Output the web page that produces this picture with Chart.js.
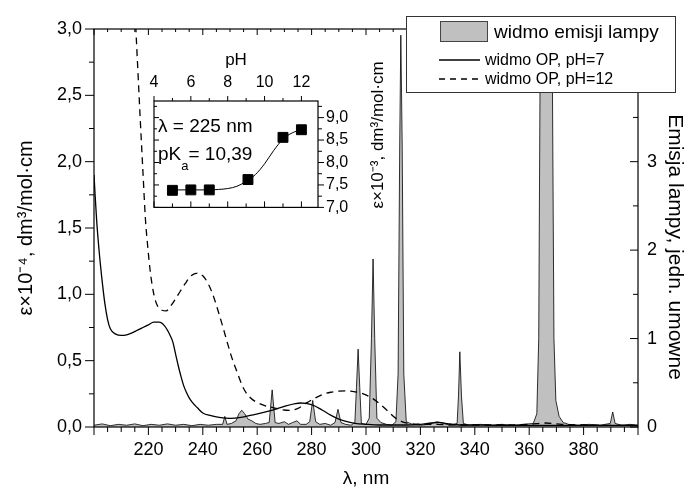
<!DOCTYPE html>
<html>
<head>
<meta charset="utf-8">
<script src="https://cdn.jsdelivr.net/npm/chart.js@4.4.1/dist/chart.umd.min.js"></script>
<style>
  html, body { margin: 0; padding: 0; background: #fff; }
  #wrap { position: relative; width: 688px; height: 490px; }
  #main { position: absolute; left: 0; top: 0; }
  #inset { position: absolute; left: 140px; top: 40px; }
</style>
</head>
<body>
<div id="wrap">
  <canvas id="main" width="688" height="490"></canvas>
  <canvas id="inset" width="260" height="185"></canvas>
</div>
<script>
// Absorption spectrum, pH=7 (lambda nm / eps x 10^-4)
const waveSolid = [200, 200.4, 201, 202, 203, 204, 205, 206, 208, 210, 212, 214, 216, 218, 220, 222, 224, 226, 228, 229, 230, 231, 232, 233, 234, 235, 236, 238, 240, 243, 246, 250, 254, 258, 262, 266, 270, 274, 276, 278, 281, 284, 287, 290, 293, 296, 300, 305, 310, 315, 320, 324, 327, 330, 335, 340, 350, 360, 370, 380, 390, 400];
const epsSolid = [1.9, 1.75, 1.55, 1.3, 1.1, 0.93, 0.81, 0.74, 0.70, 0.69, 0.695, 0.71, 0.73, 0.75, 0.77, 0.79, 0.79, 0.76, 0.69, 0.64, 0.55, 0.46, 0.38, 0.31, 0.26, 0.22, 0.19, 0.145, 0.105, 0.085, 0.072, 0.065, 0.072, 0.09, 0.108, 0.13, 0.155, 0.176, 0.181, 0.178, 0.16, 0.126, 0.09, 0.06, 0.04, 0.027, 0.02, 0.015, 0.015, 0.015, 0.02, 0.03, 0.035, 0.025, 0.015, 0.015, 0.012, 0.012, 0.012, 0.012, 0.012, 0.012];

// Absorption spectrum, pH=12
const waveDashed = [214.8, 215.4, 216.1, 217, 218, 218.9, 219.8, 220.7, 222, 223.4, 225, 226.5, 228.5, 231, 233.5, 235.7, 238, 240, 242, 244, 246, 248, 250.4, 252.5, 255, 257.5, 260, 263, 266, 269, 272, 275, 278, 281, 284, 287, 290, 293, 296, 299, 302, 305, 308, 311, 314, 318, 325, 335, 350, 360, 366, 372, 380, 390, 400];
const epsDashed = [3.3, 3.0, 2.7, 2.32, 1.92, 1.57, 1.35, 1.17, 1.0, 0.91, 0.88, 0.875, 0.92, 1.0, 1.08, 1.14, 1.16, 1.14, 1.08, 0.98, 0.85, 0.71, 0.54, 0.42, 0.29, 0.22, 0.185, 0.16, 0.145, 0.13, 0.125, 0.14, 0.18, 0.215, 0.245, 0.262, 0.27, 0.272, 0.265, 0.25, 0.22, 0.175, 0.12, 0.065, 0.035, 0.022, 0.02, 0.015, 0.015, 0.02, 0.03, 0.02, 0.015, 0.012, 0.012];

// Lamp emission (right axis, arbitrary units)
const waveLamp = [200, 203, 206, 209, 212, 215, 218, 221, 224, 227, 230, 233, 236, 239, 242, 245, 247.3, 248.1, 248.9, 250.5, 252.2, 253.3, 254.3, 255.4, 256.6, 258, 259.5, 261, 263, 264.4, 265.5, 266.6, 268, 270, 271.5, 273, 274.6, 276, 278, 279.3, 280.4, 281.5, 283, 285, 287, 288.6, 289.7, 290.8, 292.5, 294.5, 295.9, 296.5, 297.1, 297.7, 298.3, 300, 301.2, 302, 302.6, 303.2, 304, 305.5, 307.5, 309.5, 311, 311.8, 312.4, 312.8, 313.3, 313.9, 314.8, 317, 320, 323, 326, 328.5, 331, 333.5, 334, 334.5, 335.1, 335.8, 338, 342, 346, 350, 354, 358, 361.5, 362.8, 363.5, 364.1, 365.5, 367.4, 368.4, 369.1, 369.8, 371, 372.5, 374.5, 378, 382, 386, 389.8, 390.7, 391.6, 394, 397, 400];
const lampEmission = [0.02, 0.035, 0.015, 0.03, 0.02, 0.035, 0.015, 0.03, 0.02, 0.035, 0.02, 0.03, 0.015, 0.03, 0.02, 0.03, 0.03, 0.12, 0.03, 0.04, 0.07, 0.15, 0.19, 0.15, 0.09, 0.07, 0.04, 0.03, 0.04, 0.05, 0.42, 0.05, 0.04, 0.06, 0.03, 0.05, 0.07, 0.03, 0.03, 0.06, 0.3, 0.06, 0.03, 0.04, 0.02, 0.05, 0.2, 0.05, 0.03, 0.02, 0.05, 0.45, 0.88, 0.45, 0.04, 0.03, 0.1, 1.0, 1.9, 1.0, 0.1, 0.05, 0.03, 0.02, 0.06, 0.6, 3.2, 4.43, 3.2, 0.6, 0.06, 0.03, 0.02, 0.03, 0.06, 0.04, 0.02, 0.04, 0.35, 0.85, 0.35, 0.04, 0.02, 0.03, 0.02, 0.03, 0.02, 0.03, 0.04, 0.15, 1.0, 4.6, 9.0, 9.0, 4.6, 1.0, 0.3, 0.12, 0.05, 0.03, 0.02, 0.03, 0.02, 0.04, 0.17, 0.04, 0.02, 0.03, 0.02];

// Inset: eps at 225 nm vs pH (eps x 10^-3)
const phValues = [5, 6, 7, 9.1, 11, 12];
const eps225 = [7.38, 7.39, 7.39, 7.62, 8.56, 8.73];
const fitPh = [5, 6, 7, 7.5, 8, 8.5, 9, 9.5, 10, 10.5, 11, 11.5, 12];
const fitEps = [7.39, 7.39, 7.39, 7.40, 7.42, 7.47, 7.58, 7.73, 7.97, 8.27, 8.52, 8.66, 8.73];

// tick labels
const xTickValues = [220, 240, 260, 280, 300, 320, 340, 360, 380];
const yTickValues = [0, 0.5, 1, 1.5, 2, 2.5, 3];
const y2TickValues = [0, 1, 2, 3];
const phTickValues = [4, 6, 8, 10, 12];
const insetYTickValues = [7, 7.5, 8, 8.5, 9];

const FONT = "'Liberation Sans', Arial, Helvetica, sans-serif";
Chart.defaults.font.family = FONT;
Chart.defaults.color = '#000';

function pairs(xs, ys) {
    return xs.map((x, i) => ({ x: x, y: ys[i] }));
}
function comma(v) {
    return Number(v).toFixed(1).replace('.', ',');
}
function steps(from, to, step) {
    const out = [];
    for (let v = from; v <= to + 1e-9; v += step) out.push(+v.toFixed(4));
    return out;
}
function isMultiple(v, m) {
    return Math.abs(v / m - Math.round(v / m)) < 1e-6;
}
function seg(ctx, x1, y1, x2, y2) {
    ctx.beginPath();
    ctx.moveTo(x1, y1);
    ctx.lineTo(x2, y2);
    ctx.stroke();
}

// Frame + major/minor tick marks for main plot
const mainFrame = {
    id: 'mainFrame',
    afterDatasetsDraw(chart) {
        const { ctx, chartArea: a, scales } = chart;
        ctx.save();
        ctx.strokeStyle = '#000';
        ctx.lineWidth = 1.2;
        ctx.strokeRect(a.left, a.top, a.right - a.left, a.bottom - a.top);
        ctx.lineWidth = 1;
        steps(200, 400, 5).forEach(v => {
            const px = scales.x.getPixelForValue(v);
            const major = isMultiple(v, 20);
            seg(ctx, px, a.bottom, px, a.bottom + (major ? 8 : 5));
            seg(ctx, px, a.top, px, a.top + (major ? 6 : 3));
        });
        steps(0, 3, 0.25).forEach(v => {
            const py = scales.y.getPixelForValue(v);
            seg(ctx, a.left, py, a.left - (isMultiple(v, 0.5) ? 9 : 5), py);
        });
        steps(0, 4.5, 0.5).forEach(v => {
            const py = scales.y2.getPixelForValue(v);
            seg(ctx, a.right, py, a.right - (isMultiple(v, 1) ? 8 : 5), py);
        });
        // right axis title, reads top to bottom
        ctx.fillStyle = '#000';
        ctx.font = '21px ' + FONT;
        ctx.textAlign = 'center';
        ctx.textBaseline = 'middle';
        ctx.translate(675, 247);
        ctx.rotate(Math.PI / 2);
        ctx.fillText('Emisja lampy, jedn. umowne', 0, 0);
        ctx.restore();
    }
};

// Boxed legend in the top right corner, drawn over the plot
const boxLegend = {
    id: 'boxLegend',
    afterDraw(chart) {
        const ctx = chart.ctx;
        ctx.save();
        ctx.fillStyle = '#fff';
        ctx.fillRect(406, 16, 269, 76);
        ctx.strokeStyle = '#333';
        ctx.lineWidth = 1;
        ctx.strokeRect(406.5, 16.5, 269, 76);

        ctx.fillStyle = '#c0c0c0';
        ctx.fillRect(440, 21, 47, 20);
        ctx.strokeStyle = '#444';
        ctx.strokeRect(440.5, 21.5, 47, 20);

        ctx.fillStyle = '#000';
        ctx.textAlign = 'left';
        ctx.textBaseline = 'alphabetic';
        ctx.font = '19px ' + FONT;
        ctx.fillText('widmo emisji lampy', 494, 38);

        ctx.strokeStyle = '#000';
        ctx.lineWidth = 1.3;
        seg(ctx, 439, 60, 480, 60);
        ctx.setLineDash([6, 5]);
        seg(ctx, 439, 79, 480, 79);
        ctx.setLineDash([]);
        ctx.font = '16px ' + FONT;
        ctx.fillText('widmo OP, pH=7', 485, 65);
        ctx.fillText('widmo OP, pH=12', 485, 84);
        ctx.restore();
    }
};

new Chart(document.getElementById('main'), {
    type: 'line',
    data: {
        datasets: [{
            label: 'widmo OP, pH=7',
            data: pairs(waveSolid, epsSolid),
            yAxisID: 'y',
            borderColor: '#000',
            borderWidth: 1.3,
            pointRadius: 0,
            cubicInterpolationMode: 'monotone',
            fill: false,
            order: 1
        }, {
            label: 'widmo OP, pH=12',
            data: pairs(waveDashed, epsDashed),
            yAxisID: 'y',
            borderColor: '#000',
            borderWidth: 1.3,
            borderDash: [7, 5],
            pointRadius: 0,
            cubicInterpolationMode: 'monotone',
            fill: false,
            order: 2
        }, {
            label: 'widmo emisji lampy',
            data: pairs(waveLamp, lampEmission),
            yAxisID: 'y2',
            borderColor: '#000',
            borderWidth: 0.8,
            backgroundColor: '#c0c0c0',
            fill: 'origin',
            tension: 0,
            pointRadius: 0,
            order: 3
        }]
    },
    options: {
        responsive: false,
        animation: false,
        events: [],
        layout: { padding: { top: 29, left: 0, right: 0, bottom: 0 } },
        plugins: { legend: { display: false }, tooltip: { enabled: false } },
        scales: {
            x: {
                type: 'linear',
                position: 'bottom',
                min: 200,
                max: 400,
                afterFit: s => { s.height = 63; },
                afterBuildTicks: s => { s.ticks = xTickValues.map(v => ({ value: v })); },
                grid: { display: false, drawTicks: false },
                border: { display: false },
                ticks: { padding: 12, maxRotation: 0, autoSkip: false, font: { size: 18 } },
                title: { display: true, text: 'λ, nm', font: { size: 19 }, padding: { top: 0, bottom: 0 } }
            },
            y: {
                position: 'left',
                min: 0,
                max: 3,
                afterFit: s => { s.width = 94; },
                afterBuildTicks: s => { s.ticks = yTickValues.map(v => ({ value: v })); },
                grid: { display: false, drawTicks: false },
                border: { display: false },
                ticks: { padding: 12, font: { size: 18 }, callback: v => comma(v) },
                title: { display: true, text: 'ε×10⁻⁴, dm³/mol·cm', font: { size: 20 }, padding: { top: 14, bottom: 0 } }
            },
            y2: {
                position: 'right',
                min: 0,
                max: 4.5,
                afterFit: s => { s.width = 50; },
                afterBuildTicks: s => { s.ticks = y2TickValues.map(v => ({ value: v })); },
                grid: { display: false, drawTicks: false },
                border: { display: false },
                ticks: { padding: 9, font: { size: 18 }, callback: v => String(v) }
            }
        }
    },
    plugins: [mainFrame, boxLegend]
});

// Inset frame, ticks and annotations
const insetFrame = {
    id: 'insetFrame',
    afterDatasetsDraw(chart) {
        const { ctx, chartArea: a, scales } = chart;
        ctx.save();
        ctx.strokeStyle = '#000';
        ctx.lineWidth = 1.2;
        ctx.strokeRect(a.left, a.top, a.right - a.left, a.bottom - a.top);
        ctx.lineWidth = 1;
        steps(4, 12.9, 1).forEach(v => {
            const px = scales.x.getPixelForValue(v);
            const major = isMultiple(v, 2);
            seg(ctx, px, a.top, px, a.top - (major ? 5 : 3));
            seg(ctx, px, a.bottom, px, a.bottom - (major ? 6 : 4));
        });
        steps(7, 9.25, 0.25).forEach(v => {
            const py = scales.y.getPixelForValue(v);
            const major = isMultiple(v, 0.5);
            seg(ctx, a.left, py, a.left + (major ? 5 : 3), py);
            seg(ctx, a.right, py, a.right + (major ? 6 : 4), py);
        });

        ctx.fillStyle = '#000';
        ctx.textAlign = 'left';
        ctx.textBaseline = 'alphabetic';
        ctx.font = '19px ' + FONT;
        ctx.fillText('λ = 225 nm', 18, 92);
        ctx.fillText('pK', 18, 120);
        const wpK = ctx.measureText('pK').width;
        ctx.font = '13px ' + FONT;
        ctx.fillText('a', 18 + wpK, 130);
        const wa = ctx.measureText('a').width;
        ctx.font = '19px ' + FONT;
        ctx.fillText('= 10,39', 18 + wpK + wa, 120);

        // right title, reads bottom to top
        ctx.font = '17px ' + FONT;
        ctx.textAlign = 'center';
        ctx.textBaseline = 'middle';
        ctx.translate(238, 95);
        ctx.rotate(-Math.PI / 2);
        ctx.fillText('ε×10⁻³, dm³/mol·cm', 0, 0);
        ctx.restore();
    }
};

new Chart(document.getElementById('inset'), {
    type: 'line',
    data: {
        datasets: [{
            label: 'pomiar',
            data: pairs(phValues, eps225),
            showLine: false,
            pointStyle: 'rect',
            pointRadius: 7,
            backgroundColor: '#000',
            borderColor: '#000',
            order: 1
        }, {
            label: 'dopasowanie',
            data: pairs(fitPh, fitEps),
            borderColor: '#000',
            borderWidth: 1,
            pointRadius: 0,
            cubicInterpolationMode: 'monotone',
            fill: false,
            order: 2
        }]
    },
    options: {
        responsive: false,
        animation: false,
        events: [],
        layout: { padding: { top: 0, left: 14, right: 0, bottom: 9 } },
        plugins: { legend: { display: false }, tooltip: { enabled: false } },
        scales: {
            x: {
                type: 'linear',
                position: 'top',
                min: 4,
                max: 12.9,
                afterFit: s => { s.height = 61; },
                afterBuildTicks: s => { s.ticks = phTickValues.map(v => ({ value: v })); },
                grid: { display: false, drawTicks: false },
                border: { display: false },
                ticks: { padding: 9, maxRotation: 0, autoSkip: false, font: { size: 16 } },
                title: { display: true, text: 'pH', font: { size: 17 }, padding: { top: 10, bottom: 0 } }
            },
            y: {
                position: 'right',
                min: 7,
                max: 9.37,
                afterFit: s => { s.width = 82; },
                afterBuildTicks: s => { s.ticks = insetYTickValues.map(v => ({ value: v })); },
                grid: { display: false, drawTicks: false },
                border: { display: false },
                ticks: { padding: 8, font: { size: 16 }, callback: v => comma(v) }
            }
        }
    },
    plugins: [insetFrame]
});
</script>
</body>
</html>
